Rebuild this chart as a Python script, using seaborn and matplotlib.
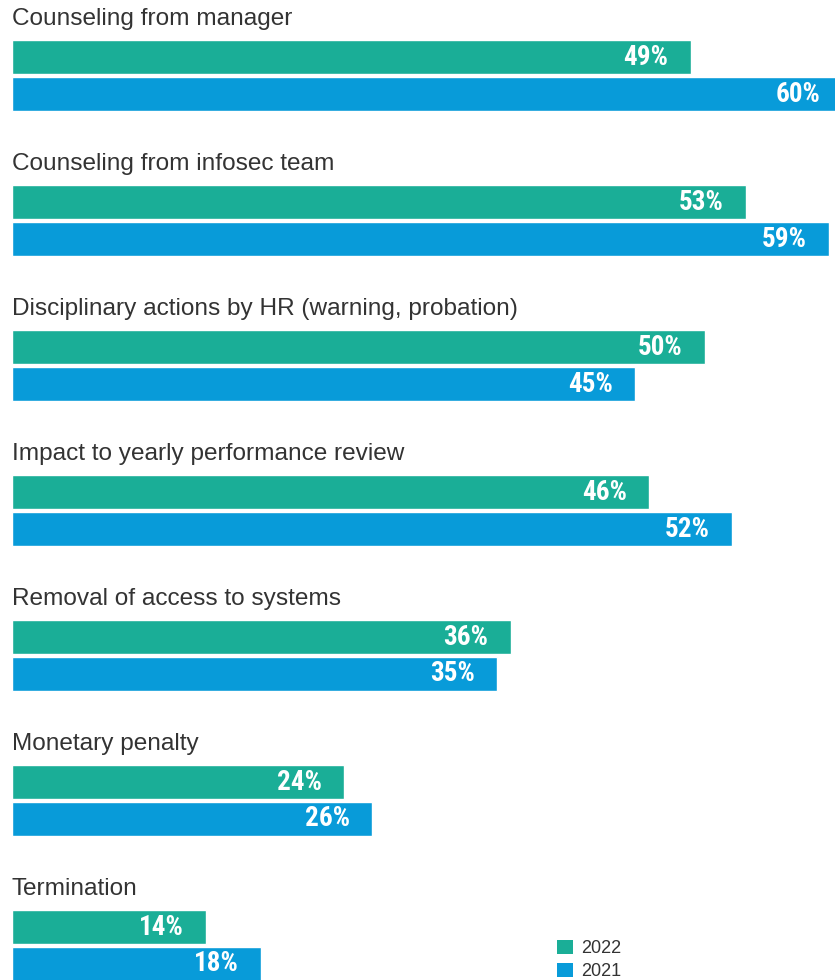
import matplotlib
matplotlib.use("Agg")
import matplotlib.pyplot as plt
from matplotlib import font_manager
import seaborn as sns
import pandas as pd
from matplotlib.patches import Patch

# Survey responses: consequences for employees who violate security policy
categories = [
    "Counseling from manager",
    "Counseling from infosec team",
    "Disciplinary actions by HR (warning, probation)",
    "Impact to yearly performance review",
    "Removal of access to systems",
    "Monetary penalty",
    "Termination",
]
values_2022 = [49, 53, 50, 46, 36, 24, 14]
values_2021 = [60, 59, 45, 52, 35, 26, 18]
years = ["2022", "2021"]
colors = {"2022": "#1AAE97", "2021": "#089BD9"}

df = pd.DataFrame({
    "category": categories * 2,
    "year": ["2022"] * len(categories) + ["2021"] * len(categories),
    "value": values_2022 + values_2021,
})

sns.set_theme(style="white")
plt.rcParams["font.family"] = ["Liberation Sans", "DejaVu Sans"]


def narrow_bold_font():
    """Pick a condensed bold face for the in-bar percentages if one exists."""
    best = None
    for f in font_manager.fontManager.ttflist:
        tag = (f.name + " " + f.fname).lower()
        narrow = ("narrow" in tag or "condensed" in tag
                  or f.stretch not in ("normal", 500))
        if narrow:
            w = f.weight if isinstance(f.weight, int) else (
                700 if "bold" in str(f.weight) else 400)
            score = (w >= 600, "liberation" in tag or "roboto" in tag)
            if best is None or score > best[0]:
                best = (score, f.fname)
    if best is not None:
        return font_manager.FontProperties(fname=best[1])
    return font_manager.FontProperties(family="Liberation Sans",
                                       weight="bold")


val_font = narrow_bold_font()
val_font.set_size(19.5)

W, H = 835, 980
fig = plt.figure(figsize=(W / 100, H / 100), dpi=100)
ax = fig.add_axes([12 / W, 0, 1 - 12 / W, 1])

sns.barplot(
    data=df, y="category", x="value", hue="year", hue_order=years,
    palette=colors, orient="h", width=0.51, gap=0.08, order=categories,
    saturation=1, legend=False, ax=ax,
)

ax.set_xlim(0, 59.42)
ax.set_ylim(6.238, -0.521)
ax.set_axis_off()

# Category names sit above each pair of bars
for i, name in enumerate(categories):
    ax.text(0, i - 0.39, name, ha="left", va="center", fontsize=17.6,
            color="#333333")

# Percent labels inside the bar ends
for cont in ax.containers:
    vals = [r.get_width() for r in cont]
    texts = ax.bar_label(cont, labels=[f"{v:.0f}%" for v in vals],
                         padding=-16, color="white", fontproperties=val_font)
    for t in texts:
        t.set_ha("right")
        t.set_annotation_clip(False)

handles = [Patch(facecolor=colors[y], edgecolor="none", label=y) for y in years]
fig.legend(handles=handles, loc="upper left",
           bbox_to_anchor=(548 / W, 1 - 931 / H), frameon=False,
           fontsize=13, handlelength=0.9, handleheight=0.85,
           handletextpad=0.45, labelspacing=0.3, borderpad=0,
           labelcolor="#333333")

fig.savefig("out.png", dpi=100)
